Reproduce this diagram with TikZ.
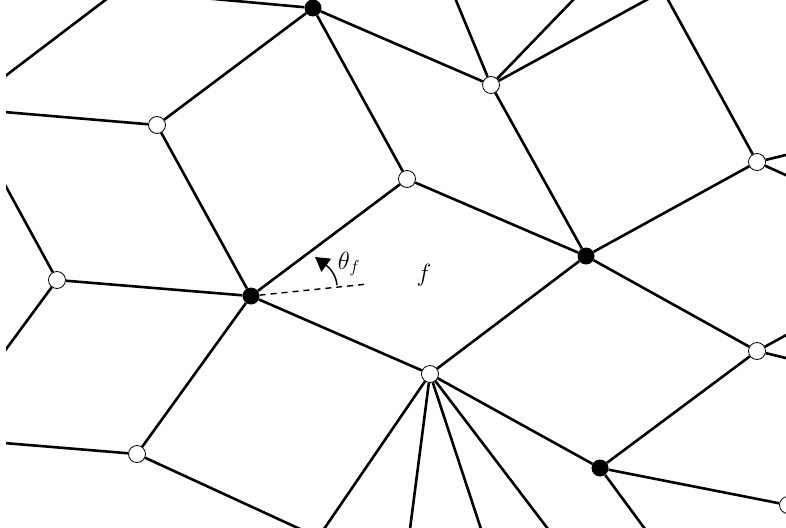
\documentclass[tikz,border=0pt]{standalone}
\usepackage{amsmath,amssymb}
\usepackage{tikz}
\usetikzlibrary{arrows.meta}

\tikzset{
  edge/.style={line width=2.6pt},
  wv/.style={circle,draw=black,fill=white,line width=0.8pt,inner sep=0pt,minimum size=17pt},
  bv/.style={circle,fill=black,inner sep=0pt,minimum size=17pt},
}

\begin{document}
\begin{tikzpicture}[x=1pt,y=-1pt]
\useasboundingbox (0,0) rectangle (786,527);
\begin{scope}
\clip (6,0) rectangle (786,527);
% vertices
\node[bv] (b1) at (313,8) {};
\node[bv] (b2) at (586,256) {};
\node[bv] (b3) at (251,296) {};
\node[bv] (b4) at (600,468) {};
\node[wv] (w1) at (491,85) {};
\node[wv] (w2) at (157,125) {};
\node[wv] (w3) at (407,179) {};
\node[wv] (w4) at (757,162) {};
\node[wv] (w5) at (57,280) {};
\node[wv] (w6) at (430,374) {};
\node[wv] (w7) at (757,351) {};
\node[wv] (w8) at (137,454) {};
\node[wv] (w9) at (788,505) {};
% free ends on the border
\coordinate (t1) at (203,-2);
\coordinate (t2) at (108,-2);
\coordinate (t3) at (455,-2);
\coordinate (t4) at (575,-2);
\coordinate (t5) at (650,-2);
\coordinate (t6) at (667,-2);
\coordinate (l1) at (4,77);
\coordinate (l2) at (4,112);
\coordinate (l3) at (4,183);
\coordinate (l4) at (4,352);
\coordinate (l5) at (4,443);
\coordinate (r1) at (790,154);
\coordinate (r2) at (790,177);
\coordinate (r3) at (790,333);
\coordinate (r4) at (790,359);
\coordinate (d1) at (300,529);
\coordinate (d2) at (324,529);
\coordinate (d3) at (410,529);
\coordinate (d4) at (481,529);
\coordinate (d5) at (548,529);
\coordinate (d6) at (645,529);
% edges
\draw[edge] (t1) -- (b1) -- (w2) -- (l2);
\draw[edge] (t2) -- (l1);
\draw[edge] (b1) -- (w3) -- (b2) -- (w1) -- (b1);
\draw[edge] (t3) -- (w1) -- (t4);
\draw[edge] (t5) -- (w1);
\draw[edge] (t6) -- (w4) -- (r1);
\draw[edge] (r2) -- (w4) -- (b2);
\draw[edge] (w2) -- (b3) -- (w3);
\draw[edge] (l3) -- (w5) -- (l4);
\draw[edge] (w5) -- (b3) -- (w6) -- (b2) -- (w7);
\draw[edge] (b3) -- (w8) -- (l5);
\draw[edge] (w8) -- (d1);
\draw[edge] (r3) -- (w7) -- (r4);
\draw[edge] (w7) -- (b4) -- (w6);
\draw[edge] (b4) -- (w9);
\draw[edge] (b4) -- (d6);
\draw[edge] (d2) -- (w6) -- (d3);
\draw[edge] (d4) -- (w6) -- (d5);
\end{scope}
% angle of the face
\coordinate (ray) at (368,284);
\coordinate (tha) at (337,285);
\coordinate (thb) at (315,257);
\draw[line width=1.4pt,dash pattern=on 6pt off 5pt] (b3) -- (ray);
\draw[line width=1.5pt,-{Triangle[length=14pt,width=16pt]}] (tha) .. controls (336,275) and (330,268) .. (thb);
\node[font=\fontsize{25}{29}\selectfont] (theta) at (349,264) {$\theta_f$};
\node[font=\fontsize{25}{29}\selectfont] (face) at (424,275) {$f$};
\end{tikzpicture}
\end{document}
